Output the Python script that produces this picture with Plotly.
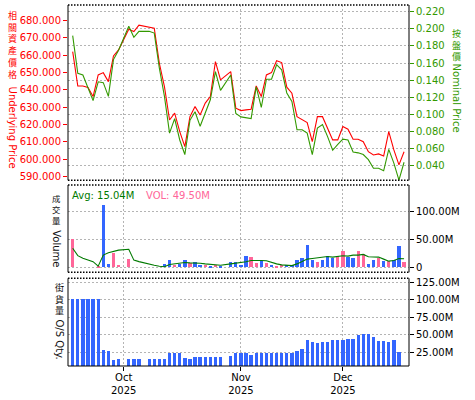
import numpy as np
import plotly.graph_objects as go

# ---------------- data ----------------
dates = [
    "2025-09-17", "2025-09-18", "2025-09-19", "2025-09-22", "2025-09-23",
    "2025-09-24", "2025-09-25", "2025-09-26", "2025-09-29", "2025-09-30",
    "2025-10-02", "2025-10-03", "2025-10-06", "2025-10-08", "2025-10-09",
    "2025-10-10", "2025-10-13", "2025-10-14", "2025-10-15", "2025-10-16",
    "2025-10-17", "2025-10-20", "2025-10-21", "2025-10-22", "2025-10-23",
    "2025-10-24", "2025-10-27", "2025-10-28", "2025-10-30", "2025-10-31",
    "2025-11-03", "2025-11-04", "2025-11-05", "2025-11-06", "2025-11-07",
    "2025-11-10", "2025-11-11", "2025-11-12", "2025-11-13", "2025-11-14",
    "2025-11-17", "2025-11-18", "2025-11-19", "2025-11-20", "2025-11-21",
    "2025-11-24", "2025-11-25", "2025-11-26", "2025-11-27", "2025-11-28",
    "2025-12-01", "2025-12-02", "2025-12-03", "2025-12-04", "2025-12-05",
    "2025-12-08", "2025-12-09", "2025-12-10", "2025-12-11", "2025-12-12",
    "2025-12-15", "2025-12-16", "2025-12-17",
]

underlying = [
    662.1, 642.3, 642.3, 641.5, 636.2, 648.7, 650.0, 644.8, 659.6, 663.1,
    675.0, 673.7, 677.4, 676.0, 675.6, 655.4, 641.9, 622.7, 626.6, 616.0,
    607.3, 624.6, 630.4, 625.6, 632.4, 636.2, 656.4, 645.8, 650.6, 629.5,
    628.1, 628.5, 628.9, 642.3, 636.2, 648.7, 650.0, 656.9, 655.8, 641.6,
    638.1, 624.6, 622.7, 621.2, 610.2, 624.6, 624.6, 617.9, 611.2, 611.2,
    618.9, 617.4, 611.6, 611.6, 610.2, 604.4, 602.5, 603.1, 601.9, 616.0,
    605.4, 596.8, 604.4,
]

nominal = [
    0.192, 0.148, 0.146, 0.131, 0.116, 0.138, 0.137, 0.121, 0.164, 0.175,
    0.203, 0.190, 0.197, 0.197, 0.195, 0.154, 0.121, 0.078, 0.095, 0.070,
    0.053, 0.093, 0.103, 0.086, 0.101, 0.117, 0.150, 0.128, 0.146, 0.101,
    0.097, 0.096, 0.095, 0.132, 0.108, 0.141, 0.141, 0.158, 0.152, 0.125,
    0.115, 0.082, 0.082, 0.078, 0.053, 0.084, 0.088, 0.074, 0.058, 0.065,
    0.071, 0.070, 0.056, 0.055, 0.053, 0.047, 0.037, 0.037, 0.034, 0.059,
    0.043, 0.023, 0.044,
]

volume_m = [
    50.7, 0, 0, 0, 0, 2.5, 110.5, 5.4, 25.4, 3.6,
    14.5, 0, 0, 0, 0, 0, 5.4, 12.7, 3.6, 5.4,
    12.7, 7.2, 9.0, 3.6, 3.6, 1.8, 3.6, 1.8, 9.0, 9.0,
    3.6, 20.0, 18.0, 7.2, 10.9, 7.2, 3.6, 1.8, 3.6, 3.6,
    3.6, 12.7, 16.3, 40.0, 12.7, 9.0, 12.7, 20.0, 16.3, 20.0,
    29.0, 18.0, 16.3, 29.0, 23.5, 5.4, 12.7, 17.0, 10.9, 10.9,
    12.7, 38.0, 8.5,
]

volume_dir = [
    "d", "u", "u", "u", "u", "d", "u", "u", "d", "d",
    "d", "u", "u", "u", "u", "u", "u", "u", "d", "u",
    "u", "d", "u", "u", "d", "u", "d", "u", "u", "u",
    "u", "u", "d", "d", "u", "d", "u", "d", "d", "u",
    "u", "u", "u", "u", "u", "d", "u", "u", "u", "d",
    "d", "u", "u", "d", "d", "u", "u", "d", "u", "d",
    "u", "u", "d",
]

volume_avg_m = [
    34.0, 20.7, 16.0, 13.5, 10.0, 2.0, 21.7, 26.0, 28.5, 30.5,
    32.0, 12.7, 10.0, 5.0, 3.6, 1.8, 1.0, 4.8, 6.0, 7.2,
    8.5, 7.8, 7.8, 7.2, 6.0, 5.4, 4.2, 3.6, 6.0, 7.2,
    7.8, 9.7, 12.1, 12.7, 12.1, 11.5, 8.5, 6.0, 4.2, 3.6,
    3.0, 6.0, 9.7, 14.5, 15.7, 16.9, 18.1, 19.3, 18.1, 19.3,
    20.5, 19.9, 21.7, 21.7, 22.9, 18.7, 18.1, 18.1, 14.5, 10.9,
    12.1, 15.7, 15.04,
]

os_dates = dates[:-1]
os_qty_m = [
    100, 100, 100, 100, 100, 100, 28.0, 26.6, 13.7, 15.0,
    15.0, 15.0, 15.0, 15.0, 15.0, 15.0, 15.0, 22.7, 22.7, 22.7,
    16.6, 15.0, 18.0, 18.0, 18.0, 18.0, 18.0, 18.0, 19.4, 22.7,
    22.7, 23.7, 20.8, 23.7, 23.7, 22.7, 22.7, 22.7, 22.7, 22.7,
    22.7, 25.5, 29.4, 42.3, 38.4, 37.0, 39.4, 39.4, 42.3, 42.3,
    42.3, 43.7, 43.7, 49.4, 50.9, 50.9, 46.6, 40.9, 40.9, 39.4,
    42.3, 25.1,
]

month_starts = ["2025-10-01", "2025-11-01", "2025-12-01"]
month_labels = ["Oct", "Nov", "Dec"]
year_label = "2025"

price_ticks = [590, 600, 610, 620, 630, 640, 650, 660, 670, 680]
nominal_ticks = [0.04, 0.06, 0.08, 0.10, 0.12, 0.14, 0.16, 0.18, 0.20, 0.22]
vol_ticks = [0, 50, 100]
vol_tick_text = ["0", "50.00M", "100.00M"]
os_ticks = [25, 50, 75, 100, 125]
os_tick_text = ["25.00M", "50.00M", "75.00M", "100.00M", "125.00M"]

avg_text = "Avg: 15.04M"
vol_text = "VOL: 49.50M"

# ---------------- positions (weekday index axis) ----------------
start = dates[0]
x = np.busday_count(start, np.array(dates, dtype="datetime64[D]"))
x_os = np.busday_count(start, np.array(os_dates, dtype="datetime64[D]"))
tickpos = [int(np.busday_count(start, np.busday_offset(m, 0, roll="forward"))) for m in month_starts]
ticktext = [f"{m}<br>{year_label}" for m in month_labels]

RED = "#ff0000"
GREEN = "#339900"
AVG = "#007a00"
BLUE = "#3366ff"
PINK = "#ff6699"
GRID = "#b4b4b4"
FONT = "DejaVu Sans"
CJK = "Noto Sans CJK TC"

W, H = 475, 400
ML, MR, MT, MB = 68, 66, 5, 34
PW, PH = W - ML - MR, H - MT - MB


def px(xp):
    return (xp - ML) / PW


def py(yp):
    return (H - MB - yp) / PH


dom_top = [py(180.3), 1.0]
dom_vol = [py(272.3), py(185)]
dom_os = [0.0, py(278.3)]

fig = go.Figure()

fig.add_trace(go.Scatter(x=x, y=nominal, mode="lines", line=dict(color=GREEN, width=1.1),
                         xaxis="x", yaxis="y2", hoverinfo="skip"))
fig.add_trace(go.Scatter(x=x, y=underlying, mode="lines", line=dict(color=RED, width=1.1),
                         xaxis="x", yaxis="y", hoverinfo="skip"))

fig.add_trace(go.Bar(x=x, y=volume_m, width=0.65,
                     marker=dict(color=[BLUE if d == "u" else PINK for d in volume_dir], line_width=0),
                     xaxis="x2", yaxis="y3", hoverinfo="skip"))
fig.add_trace(go.Scatter(x=x, y=volume_avg_m, mode="lines", line=dict(color=AVG, width=1.1),
                         xaxis="x2", yaxis="y3", hoverinfo="skip"))

fig.add_trace(go.Bar(x=x_os, y=os_qty_m, width=0.65, marker=dict(color=BLUE, line_width=0),
                     xaxis="x3", yaxis="y4", hoverinfo="skip"))

xr = [-0.92, 65.97]
xcommon = dict(range=xr, tickvals=tickpos, ticktext=ticktext, showgrid=True, gridcolor=GRID,
               griddash="2px,2px", gridwidth=1, zeroline=False, showline=False)

fig.update_layout(
    width=W, height=H, margin=dict(l=ML, r=MR, t=MT, b=MB, autoexpand=False),
    paper_bgcolor="white", plot_bgcolor="white", showlegend=False,
    font=dict(family=FONT, size=10, color="black"),
    bargap=0,
    xaxis=dict(**xcommon, anchor="y", domain=[0, 1], showticklabels=False, ticks=""),
    xaxis2=dict(**xcommon, anchor="y3", domain=[0, 1], matches="x", showticklabels=False, ticks=""),
    xaxis3=dict(**xcommon, anchor="y4", domain=[0, 1], matches="x", showticklabels=True,
                ticks="outside", ticklen=4, tickcolor="black", ticklabelstandoff=-2,
                tickfont=dict(size=10, color="black")),
    yaxis=dict(domain=dom_top, anchor="x", side="left", range=[587.9, 689.0],
               tickvals=price_ticks, tickformat=".3f", ticks="outside", ticklen=4, tickcolor=RED,
               tickfont=dict(color=RED, size=10), showgrid=False, zeroline=False),
    yaxis2=dict(overlaying="y", anchor="x", side="right", range=[0.0229, 0.2278],
                tickvals=nominal_ticks, tickformat=".3f", ticks="outside", ticklen=4, tickcolor=GREEN,
                tickfont=dict(color=GREEN, size=10), showgrid=True, gridcolor=GRID,
                griddash="2px,2px", zeroline=False),
    yaxis3=dict(domain=dom_vol, anchor="x2", side="right", range=[-9, 146.7],
                tickvals=vol_ticks, ticktext=vol_tick_text, ticks="outside", ticklen=4,
                tickcolor="black", tickfont=dict(size=10, color="black"), showgrid=True,
                gridcolor=GRID, griddash="2px,2px", zeroline=False),
    yaxis4=dict(domain=dom_os, anchor="x3", side="right", range=[5.1, 130.4],
                tickvals=os_ticks, ticktext=os_tick_text, ticks="outside", ticklen=4,
                tickcolor="black", tickfont=dict(size=10, color="black"), showgrid=True,
                gridcolor=GRID, griddash="2px,2px", zeroline=False),
)

# panel borders
shapes = []
for (y0, y1), bottom_solid in ((dom_top, False), (dom_vol, False), (dom_os, True)):
    shapes.append(dict(type="line", xref="paper", yref="paper", x0=0, x1=0, y0=y0, y1=y1,
                       line=dict(color="black", width=1)))
    shapes.append(dict(type="line", xref="paper", yref="paper", x0=1, x1=1, y0=y0, y1=y1,
                       line=dict(color="black", width=1)))
    shapes.append(dict(type="line", xref="paper", yref="paper", x0=0, x1=1, y0=y1, y1=y1,
                       line=dict(color="black", width=1.5, dash="1.5px,1.5px")))
    shapes.append(dict(type="line", xref="paper", yref="paper", x0=0, x1=1, y0=y0, y1=y0,
                       line=dict(color="black", width=1.5 if not bottom_solid else 1.2,
                                 dash="1.5px,1.5px" if not bottom_solid else "solid")))
fig.update_layout(shapes=shapes)

ann = []


def vtitle(xc, chars, y_first, y_last, latin, latin_y, color, cjk_size):
    ann.append(dict(x=px(xc), y=py((y_first + y_last) / 2), xref="paper", yref="paper",
                    text="<br>".join(chars), showarrow=False, align="center",
                    xanchor="center", yanchor="middle",
                    font=dict(family=CJK, size=cjk_size, color=color)))
    ann.append(dict(x=px(xc), y=py(latin_y), xref="paper", yref="paper", text=latin, showarrow=False,
                    textangle=90, xanchor="center", yanchor="middle",
                    font=dict(family=FONT, size=10, color=color)))


vtitle(12.7, "相關資產價格", 16.2, 73.8, "Underlying Price", 127.3, RED, 9)
vtitle(456.7, "按盤價", 33.8, 56.7, "Nominal Price", 98.3, GREEN, 9)
vtitle(56.7, "成交量", 198.0, 220.0, "Volume", 249.0, "#111111", 8.4)
vtitle(59.0, "街貨量", 287.0, 310.0, "O/S Qty.", 339.5, "#111111", 9)

ann.append(dict(x=px(70), y=py(195), xref="paper", yref="paper", text=avg_text, showarrow=False,
                xanchor="left", yanchor="middle", font=dict(family=FONT, size=10, color=AVG)))
ann.append(dict(x=px(144), y=py(195), xref="paper", yref="paper", text=vol_text, showarrow=False,
                xanchor="left", yanchor="middle", font=dict(family=FONT, size=10, color=PINK)))
fig.update_layout(annotations=ann)

fig.write_html("out.html", config={"displayModeBar": False},
               post_script="document.body.style.margin='0';document.body.style.overflow='hidden';")
